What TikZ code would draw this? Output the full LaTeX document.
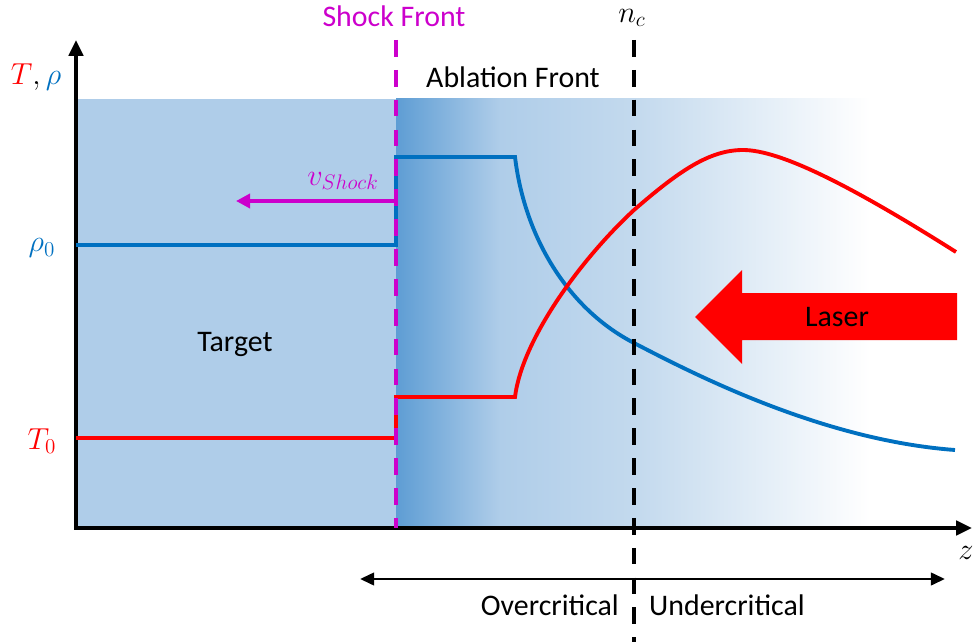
\documentclass[tikz,border=0pt]{standalone}
\usepackage{fontspec}
\setmainfont{Carlito}
\usetikzlibrary{arrows.meta}
\definecolor{target}{HTML}{AFCDE9}
\definecolor{abl}{HTML}{5E9DD4}
\definecolor{mid}{HTML}{C4DAEE}
\definecolor{rhoblue}{HTML}{0070C0}
\definecolor{shock}{HTML}{CC00CC}

\begin{document}
\begin{tikzpicture}[
    x=0.02cm, y=-0.02cm,
    lbl/.style={font=\fontsize{17}{19}\selectfont},
    mlbl/.style={font=\fontsize{18}{20}\selectfont},
    curve/.style={line width=2.2pt},
    axis/.style={line width=2.3pt, -{Triangle[length=9pt,width=8pt]}},
    front/.style={line width=2.3pt, dash pattern=on 9.5pt off 7.5pt},
]
\useasboundingbox (0,0) rectangle (974,642);

% Plasma background
\fill[target] (76,99) rectangle (396,528);
\shade[left color=abl, right color=target] (396,99) rectangle (500,528);
\shade[left color=target, right color=mid] (500,99) rectangle (640,528);
\shade[left color=mid, right color=white] (640,99) rectangle (870,528);

% Axes
\coordinate (O) at (76,528);
\coordinate (ytip) at (76,40);
\coordinate (xtip) at (972,528);
\draw[axis] ([yshift=-1.1pt]O) -- (ytip);
\draw[axis] ([xshift=-1.1pt]O) -- (xtip);
\node[mlbl] (axlbl) at (36,77) {$\color{red}T\color{black},\color{rhoblue}\rho$};
\node[mlbl, text=rhoblue] (rho0) at (42,248) {$\rho_0$};
\node[mlbl, text=red] (T0) at (42,441) {$T_0$};
\node[mlbl] (zlbl) at (966,553) {$z$};

% Density
\draw[curve, rhoblue] (76,245) -- (396,245) -- (396,157) -- (515,157)
    .. controls (525,240) and (570,310) .. (634,343)
    .. controls (690,372) and (820,440) .. (955,450);

% Temperature
\draw[curve, red] (76,438) -- (396,438) -- (396,397) -- (515,397)
    .. controls (522,340) and (580,260) .. (634,210)
    .. controls (680,170) and (710,150) .. (743,150)
    .. controls (780,150) and (850,185) .. (956,252);

% Shock front
\coordinate (shtop) at (396,40);
\coordinate (shbot) at (396,528);
\draw[front, shock] (shtop) -- (shbot);
\node[lbl, text=shock] (shock) at (394,16) {Shock Front};
\coordinate (vstart) at (394,201);
\coordinate (vend) at (236,201);
\draw[line width=2.2pt, shock, -{Triangle[length=8pt,width=8pt]}] (vstart) -- (vend);
\node[mlbl, text=shock] (vshock) at (343,181) {$v_{Shock}$};

% Critical density
\coordinate (nctop) at (634,40);
\coordinate (ncbot) at (634,642);
\draw[front, black] (nctop) -- (ncbot);
\node[mlbl] (nc) at (632,18) {$n_c$};

\node[lbl] (ablation) at (513,77) {Ablation Front};
\node[lbl] (targetlbl) at (235,344) {Target};

% Laser
\fill[red] (695,317) -- (742,270) -- (742,293) -- (957,293) -- (957,340)
    -- (742,340) -- (742,364) -- cycle;
\node[lbl] (laser) at (837,317) {Laser};

% Regions
\coordinate (regl) at (360,579);
\coordinate (regr) at (945,579);
\draw[line width=1.7pt, {Triangle[length=8pt,width=7pt]}-{Triangle[length=8pt,width=7pt]}] (regl) -- (regr);
\node[lbl, anchor=east] (over) at (625,605) {Overcritical};
\node[lbl, anchor=west] (under) at (643,605) {Undercritical};

\end{tikzpicture}
\end{document}
